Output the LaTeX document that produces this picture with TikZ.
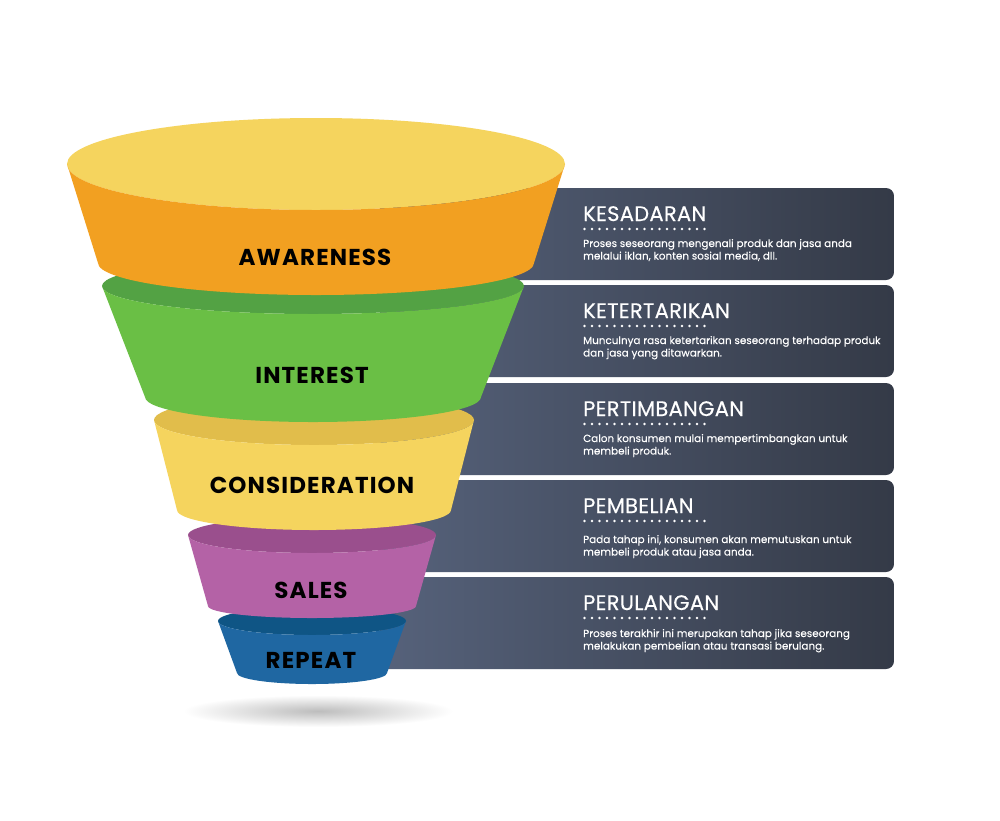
\documentclass[tikz,border=0pt]{standalone}
\usepackage{fontspec}
\setmainfont{Poppins}
\definecolor{panL}{HTML}{56627B}
\definecolor{panR}{HTML}{343A47}
\definecolor{awTop}{HTML}{F5D45E}
\definecolor{awBody}{HTML}{F2A021}
\definecolor{inTop}{HTML}{53A244}
\definecolor{inBody}{HTML}{6ABF45}
\definecolor{coTop}{HTML}{E1BD4B}
\definecolor{coBody}{HTML}{F5D45E}
\definecolor{saTop}{HTML}{9A4F8D}
\definecolor{saBody}{HTML}{B462A6}
\definecolor{reTop}{HTML}{0F5585}
\definecolor{reBody}{HTML}{1F67A2}
\newcommand\funnelseg[9]{%
  \fill[#8] (#1,#2) ellipse [x radius=#3, y radius=#4];
  \fill[#9] ({#1-#3},#2) -- ({#1-#6},#5)
    arc[start angle=180,end angle=0,x radius=#6,y radius=#7]
    -- ({#1+#3},#2)
    arc[start angle=0,end angle=180,x radius=#3,y radius=#4] -- cycle;}
\tikzset{
  lbl/.style={anchor=base,font=\bfseries\fontsize{23}{26}\selectfont\addfontfeatures{LetterSpace=5},text=black,inner sep=0pt},
  ttl/.style={anchor=base west,font=\fontsize{21}{24}\selectfont\addfontfeatures{LetterSpace=1.5,FakeBold=0.4},text=white,inner sep=0pt},
  dsc/.style={anchor=base west,font=\fontsize{10.4}{12}\selectfont\addfontfeatures{FakeBold=0.15},text=white,inner sep=0pt},
  panel/.style={left color=panL,right color=panR,rounded corners=8pt}
}
\begin{document}
\begin{tikzpicture}[x=1pt,y=-1pt]
\useasboundingbox (0,0) rectangle (1000,820);
\fill[white] (0,0) rectangle (1000,820);
% panels
\foreach \t in {188,285,383,480,577}{
  \shade[panel] (380,\t) rectangle (894,\t+92);
}
% shadow
\shade[inner color=black!26,outer color=white] (318,711) ellipse [x radius=135, y radius=16];
% funnel, bottom to top
\funnelseg{312}{621}{94}{14}{673}{75}{11}{reTop}{reBody}
\funnelseg{312}{535}{124}{18}{606}{104}{12}{saTop}{saBody}
\funnelseg{314}{420}{160}{25}{510}{137}{20}{coTop}{coBody}
\funnelseg{313}{286}{211}{28}{397}{168}{25}{inTop}{inBody}
\funnelseg{316}{164}{249}{46}{263}{218}{32}{awTop}{awBody}
% funnel labels
\node[lbl] (awareness) at (315,265) {AWARENESS};
\node[lbl] (interest) at (312,383) {INTEREST};
\node[lbl] (consideration) at (312,493) {CONSIDERATION};
\node[lbl] (sales) at (311,598) {SALES};
\node[lbl] (repeat) at (311,668) {REPEAT};
% panel texts
\foreach \y/\dy/\name/\ttext/\la/\lb in {
  188/59/p1/KESADARAN/{Proses seseorang mengenali produk dan jasa anda}/{melalui iklan, konten sosial media, dll.},
  285/59/p2/KETERTARIKAN/{Munculnya rasa ketertarikan seseorang terhadap produk}/{dan jasa yang ditawarkan.},
  383/59/p3/PERTIMBANGAN/{Calon konsumen mulai mempertimbangkan untuk}/{membeli produk.},
  480/63/p4/PEMBELIAN/{Pada tahap ini, konsumen akan memutuskan untuk}/{membeli produk atau jasa anda.},
  577/60/p5/PERULANGAN/{Proses terakhir ini merupakan tahap jika seseorang}/{melakukan pembelian atau transasi berulang.}}{
  \node[ttl] (\name t) at (583,\y+33) {\ttext};
  \foreach \i in {0,...,16}{\fill[white] (584.5+\i*7.5,\y+41) circle (1.3);}
  \node[dsc] (\name a) at (583,\y+\dy) {\la};
  \node[dsc] (\name b) at (583,\y+\dy+12.5) {\lb};
}
\end{tikzpicture}
\end{document}
